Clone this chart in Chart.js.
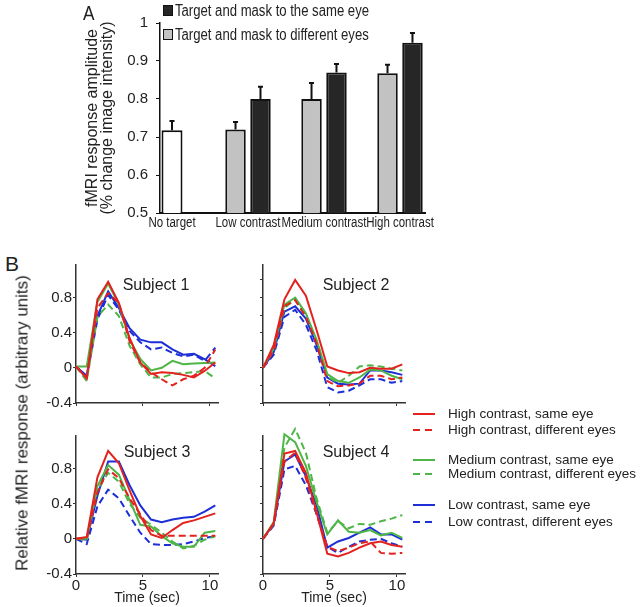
<!DOCTYPE html>
<html>
<head>
<meta charset="utf-8">
<script src="https://cdn.jsdelivr.net/npm/chart.js@4.4.0/dist/chart.umd.min.js"></script>
<style>
  body { margin: 0; background: #fff; }
  #fig { position: relative; width: 640px; height: 607px; overflow: hidden; background: #fff;
         font-family: "Liberation Sans", Arial, sans-serif; color: #222; }
  #fig canvas { position: absolute; }
  .t { position: absolute; white-space: nowrap; line-height: 1; color: #222; }
  .squeeze { transform: scaleX(0.82); transform-origin: 0 50%; }
  .c { transform: translate(-50%, -50%); }
  .sw { position: absolute; width: 10px; height: 11px; box-sizing: border-box; border: 1.5px solid #111; }
</style>
</head>
<body>
<div id="fig">
  <canvas id="chart_a" width="440" height="240" style="left:0;top:0"></canvas>
  <canvas id="subject_1" width="195" height="160" style="left:30px;top:255px"></canvas>
  <canvas id="subject_2" width="190" height="160" style="left:225px;top:255px"></canvas>
  <canvas id="subject_3" width="195" height="181" style="left:30px;top:426px"></canvas>
  <canvas id="subject_4" width="190" height="181" style="left:225px;top:426px"></canvas>

  <div class="t squeeze" style="left:83px;top:2px;font-size:21px">A</div>
  <div class="sw" style="left:163px;top:5px;background:#262626"></div>
  <div class="t squeeze" style="left:175px;top:3px;font-size:16px">Target and mask to the same eye</div>
  <div class="sw" style="left:163px;top:29px;background:#c2c2c2"></div>
  <div class="t squeeze" style="left:175px;top:27px;font-size:16px">Target and mask to different eyes</div>

  <div class="t" style="left:5px;top:253px;font-size:21px">B</div>
  <div class="t c" style="left:156px;top:285px;font-size:16px">Subject 1</div>
  <div class="t c" style="left:356px;top:285px;font-size:16px">Subject 2</div>
  <div class="t c" style="left:157px;top:452px;font-size:16px">Subject 3</div>
  <div class="t c" style="left:356px;top:452px;font-size:16px">Subject 4</div>
  <div class="t" style="left:22px;top:423px;font-size:17px;transform:translate(-50%,-50%) rotate(-90deg)">Relative fMRI response (arbitrary units)</div>
  <div id="legend_b"></div>
</div>
<script>
// ---- panel A: response amplitude ----
const categories = ["No target", "Low contrast", "Medium contrast", "High contrast"];
const category_index = [0, 1, 2, 3];
const no_target_value = [0.718, null, null, null];
const no_target_error = [0.027, null, null, null];
const different_eyes_value = [null, 0.72, 0.80, 0.868];
const different_eyes_error = [null, 0.022, 0.045, 0.025];
const same_eye_value = [null, 0.80, 0.87, 0.948];
const same_eye_error = [null, 0.035, 0.025, 0.028];
const amplitude_ticks = [0.5, 0.6, 0.7, 0.8, 0.9, 1];

// ---- panel B: time courses ----
const times = [0, 0.8, 1.6, 2.4, 3.2, 4.0, 4.8, 5.6, 6.4, 7.2, 8.0, 8.8, 9.6, 10.4];
const time_ticks = [0, 5, 10];
const response_ticks = [-0.4, -0.2, 0, 0.2, 0.4, 0.6, 0.8, 1.0];
const response_labels = ["-0.4", "", "0", "", "0.4", "", "0.8", ""];

const s1_high_same = [0.015, -0.12, 0.78, 0.98, 0.74, 0.34, 0.06, -0.07, -0.05, -0.06, -0.08, -0.11, -0.035, 0.06];
const s1_high_diff = [0.015, -0.11, 0.68, 0.85, 0.74, 0.30, 0.06, -0.05, -0.13, -0.20, -0.13, -0.09, 0.0, 0.21];
const s1_med_same = [0.015, 0.015, 0.75, 0.96, 0.72, 0.32, 0.10, -0.03, 0.0, 0.08, 0.04, 0.05, 0.055, 0.06];
const s1_med_diff = [0.015, -0.15, 0.58, 0.72, 0.59, 0.25, 0.04, -0.11, -0.11, -0.07, -0.06, -0.05, -0.035, -0.12];
const s1_low_same = [0.015, -0.09, 0.59, 0.87, 0.68, 0.45, 0.32, 0.29, 0.29, 0.21, 0.15, 0.16, 0.10, 0.02];
const s1_low_diff = [0.015, -0.11, 0.55, 0.83, 0.66, 0.42, 0.29, 0.21, 0.23, 0.17, 0.13, 0.15, 0.08, 0.23];

const s2_high_same = [0, 0.26, 0.78, 1.0, 0.82, 0.43, 0.015, -0.03, -0.06, -0.05, 0, -0.01, -0.01, 0.04];
const s2_high_diff = [0, 0.20, 0.70, 0.77, 0.58, 0.28, -0.15, -0.21, -0.20, -0.18, -0.09, -0.09, -0.13, -0.11];
const s2_med_same = [0, 0.22, 0.72, 0.80, 0.62, 0.32, -0.07, -0.15, -0.17, -0.11, -0.02, -0.03, -0.09, -0.13];
const s2_med_diff = [0, 0.20, 0.68, 0.78, 0.60, 0.30, -0.10, -0.17, -0.09, 0.015, 0.03, 0.015, -0.01, -0.03];
const s2_low_same = [0, 0.18, 0.64, 0.70, 0.56, 0.26, -0.11, -0.18, -0.19, -0.18, -0.03, -0.03, -0.05, -0.08];
const s2_low_diff = [0, 0.15, 0.58, 0.66, 0.49, 0.20, -0.22, -0.28, -0.26, -0.20, -0.13, -0.13, -0.17, -0.15];

const s3_high_same = [0, 0.02, 0.70, 1.0, 0.86, 0.55, 0.26, 0.05, 0.01, 0.10, 0.18, 0.21, 0.25, 0.29];
const s3_high_diff = [0, 0.01, 0.53, 0.79, 0.69, 0.46, 0.28, 0.10, 0.035, 0.035, 0.035, 0.035, 0.035, 0.035];
const s3_med_same = [0, 0.0, 0.60, 0.84, 0.73, 0.44, 0.16, 0.14, 0.03, -0.05, -0.09, -0.09, 0.07, 0.09];
const s3_med_diff = [0, -0.01, 0.56, 0.75, 0.65, 0.40, 0.24, 0.16, 0.07, -0.03, -0.11, -0.08, -0.01, 0.03];
const s3_low_same = [0, -0.01, 0.49, 0.88, 0.88, 0.61, 0.38, 0.22, 0.19, 0.22, 0.24, 0.25, 0.31, 0.38];
const s3_low_diff = [0, -0.06, 0.37, 0.56, 0.46, 0.26, 0.07, -0.06, -0.07, -0.07, -0.06, -0.03, 0.01, 0.03];

const s4_high_same = [0, 0.18, 0.97, 1.0, 0.75, 0.30, -0.17, -0.20, -0.16, -0.10, -0.05, -0.03, -0.07, -0.09];
const s4_high_diff = [0, 0.17, 0.88, 0.98, 0.69, 0.28, -0.09, -0.14, -0.10, -0.05, -0.03, -0.16, -0.17, -0.16];
const s4_med_same = [0, 0.19, 1.19, 1.10, 0.83, 0.42, 0.05, 0.21, 0.08, 0.07, 0.10, 0.04, 0.07, 0.01];
const s4_med_diff = [0, 0.17, 1.04, 1.25, 0.98, 0.46, 0.07, 0.20, 0.12, 0.17, 0.16, 0.20, 0.23, 0.27];
const s4_low_same = [0, 0.17, 0.88, 0.96, 0.71, 0.38, -0.10, -0.03, 0.01, 0.07, 0.13, 0.05, 0.05, -0.01];
const s4_low_diff = [0, 0.15, 0.79, 0.83, 0.61, 0.28, -0.09, -0.16, -0.09, -0.03, -0.01, 0, -0.05, -0.09];

const condition_labels = ["High contrast, same eye", "High contrast, different eyes",
  "Medium contrast, same eye", "Medium contrast, different eyes",
  "Low contrast, same eye", "Low contrast, different eyes"];
const condition_colors = ["#e3221f", "#e3221f", "#4db646", "#4db646", "#1d2fd6", "#1d2fd6"];
const condition_dashed = [false, true, false, true, false, true];

Chart.defaults.font.family = '"Liberation Sans", Arial, sans-serif';
Chart.defaults.color = "#222";

// upward error bars with a small cap
const error_bar_plugin = {
  id: "error_bars",
  afterDatasetsDraw(chart) {
    const ctx = chart.ctx;
    const y_scale = chart.scales.y;
    ctx.save();
    ctx.strokeStyle = "#111";
    ctx.lineWidth = 2;
    chart.data.datasets.forEach(function (dataset, i) {
      chart.getDatasetMeta(i).data.forEach(function (bar, j) {
        const value = dataset.data[j];
        const err = dataset.errors[j];
        if (value == null || err == null) return;
        const top = y_scale.getPixelForValue(value + err);
        ctx.beginPath();
        ctx.moveTo(bar.x, bar.y);
        ctx.lineTo(bar.x, top);
        ctx.moveTo(bar.x - 2.5, top + 1);
        ctx.lineTo(bar.x + 2.5, top + 1);
        ctx.stroke();
      });
    });
    ctx.restore();
  },
};

// the original category labels are set in a condensed face: squeeze them horizontally
const squeezed_labels_plugin = {
  id: "squeezed_labels",
  afterDraw(chart) {
    const ctx = chart.ctx;
    const x_scale = chart.scales.x;
    ctx.save();
    ctx.font = '14px "Liberation Sans", Arial, sans-serif';
    ctx.fillStyle = "#222";
    ctx.textAlign = "center";
    ctx.textBaseline = "middle";
    category_index.forEach(function (v) {
      ctx.save();
      ctx.translate(x_scale.getPixelForValue(v), x_scale.top + 10);
      ctx.scale(0.82, 1);
      ctx.fillText(categories[v], 0, 0);
      ctx.restore();
    });
    ctx.restore();
  },
};

const chart_a = new Chart("chart_a", {
  type: "bar",
  data: {
    labels: category_index,
    datasets: [
      { label: "No target", data: no_target_value, errors: no_target_error,
        backgroundColor: "#ffffff", borderColor: "#111", borderWidth: 2 },
      { label: "Target and mask to different eyes", data: different_eyes_value, errors: different_eyes_error,
        backgroundColor: "#c2c2c2", borderColor: "#111", borderWidth: 2 },
      { label: "Target and mask to the same eye", data: same_eye_value, errors: same_eye_error,
        backgroundColor: "#262626", borderColor: "#111", borderWidth: 2 },
    ],
  },
  options: {
    responsive: false,
    animation: false,
    events: [],
    skipNull: true,
    categoryPercentage: 0.657,
    barPercentage: 0.82,
    maxBarThickness: 21,
    layout: { padding: { top: 23, right: 15, left: 0, bottom: 0 } },
    plugins: { legend: { display: false }, tooltip: { enabled: false } },
    scales: {
      x: {
        type: "linear",
        min: -0.158,
        max: 3.329,
        offset: false,
        afterBuildTicks: function (s) { s.ticks = category_index.map(function (v) { return { value: v }; }); },
        afterFit: function (s) { s.height = 27; },
        ticks: { display: false },
        grid: { display: false, drawTicks: false, offset: false },
        border: { display: true, color: "#111", width: 2 },
      },
      y: {
        min: 0.5,
        max: 1,
        afterBuildTicks: function (s) { s.ticks = amplitude_ticks.map(function (v) { return { value: v }; }); },
        afterFit: function (s) { s.width = 160; },
        ticks: {
          callback: function (v) { return String(Math.round(v * 10) / 10); },
          padding: 8,
          font: { size: 15 },
          color: "#222",
        },
        grid: { display: true, drawOnChartArea: false, drawTicks: true, tickLength: 4, color: "#111" },
        border: { display: true, color: "#111", width: 1.5 },
        title: {
          display: true,
          text: ["fMRI response amplitude", "(% change image intensity)"],
          font: { size: 16, lineHeight: "15px" },
          padding: { top: 85, bottom: 0 },
          color: "#222",
        },
      },
    },
  },
  plugins: [error_bar_plugin, squeezed_labels_plugin],
});

function make_response_chart(canvas_id, series, opts) {
  return new Chart(canvas_id, {
    type: "line",
    data: {
      datasets: series.map(function (values, k) {
        return {
          label: condition_labels[k],
          data: values.map(function (v, i) { return { x: times[i], y: v }; }),
          borderColor: condition_colors[k],
          borderWidth: 2,
          borderDash: condition_dashed[k] ? [7, 4] : [],
          pointRadius: 0,
          tension: 0,
          fill: false,
          clip: false,
        };
      }),
    },
    options: {
      responsive: false,
      animation: false,
      events: [],
      layout: { padding: { top: opts.top, right: opts.right, left: 0, bottom: 0 } },
      plugins: { legend: { display: false }, tooltip: { enabled: false } },
      scales: {
        x: {
          type: "linear",
          min: 0,
          max: 10.6,
          afterBuildTicks: function (s) { s.ticks = time_ticks.map(function (v) { return { value: v }; }); },
          afterFit: function (s) { s.height = opts.x_height; },
          ticks: {
            display: opts.x_labels,
            callback: function (v) { return String(v); },
            padding: 0,
            autoSkip: false,
            maxRotation: 0,
            font: { size: 15 },
            color: "#222",
          },
          grid: { display: true, drawOnChartArea: false, drawTicks: true, tickLength: 3, color: "#333" },
          border: { display: true, color: "#333", width: 1.5 },
          title: { display: opts.x_labels, text: "Time (sec)", font: { size: 14 }, padding: 0, color: "#222" },
        },
        y: {
          min: -0.4,
          max: 1.17,
          afterBuildTicks: function (s) { s.ticks = response_ticks.map(function (v) { return { value: v }; }); },
          afterFit: function (s) { s.width = opts.y_width; },
          ticks: {
            display: opts.y_labels,
            callback: function (v, i) { return response_labels[i]; },
            padding: 1,
            font: { size: 15 },
            color: "#222",
          },
          grid: { display: true, drawOnChartArea: false, drawTicks: true, tickLength: 3, color: "#333" },
          border: { display: true, color: "#333", width: 1.5 },
        },
      },
    },
  });
}

make_response_chart("subject_1",
  [s1_high_same, s1_high_diff, s1_med_same, s1_med_diff, s1_low_same, s1_low_diff],
  { top: 10, right: 7, y_width: 46, x_height: 12, x_labels: false, y_labels: true });
make_response_chart("subject_2",
  [s2_high_same, s2_high_diff, s2_med_same, s2_med_diff, s2_low_same, s2_low_diff],
  { top: 10, right: 10, y_width: 38, x_height: 12, x_labels: false, y_labels: false });
make_response_chart("subject_3",
  [s3_high_same, s3_high_diff, s3_med_same, s3_med_diff, s3_low_same, s3_low_diff],
  { top: 10, right: 7, y_width: 46, x_height: 33, x_labels: true, y_labels: true });
make_response_chart("subject_4",
  [s4_high_same, s4_high_diff, s4_med_same, s4_med_diff, s4_low_same, s4_low_diff],
  { top: 10, right: 10, y_width: 38, x_height: 33, x_labels: true, y_labels: false });

// legend for panel B
const legend_rows_y = [414, 430, 460, 474, 505, 522];
const legend_b = document.getElementById("legend_b");
condition_labels.forEach(function (label, k) {
  const y = legend_rows_y[k];
  const dash = condition_dashed[k] ? ' stroke-dasharray="7 5"' : "";
  legend_b.insertAdjacentHTML("beforeend",
    '<svg style="position:absolute;left:410px;top:' + (y - 5) + 'px" width="30" height="10">' +
    '<line x1="3" y1="5" x2="25" y2="5" stroke="' + condition_colors[k] + '" stroke-width="2"' + dash + '/></svg>' +
    '<div class="t" style="left:448px;top:' + (y - 7) + 'px;font-size:13.5px">' + label + '</div>');
});
</script>
</body>
</html>
